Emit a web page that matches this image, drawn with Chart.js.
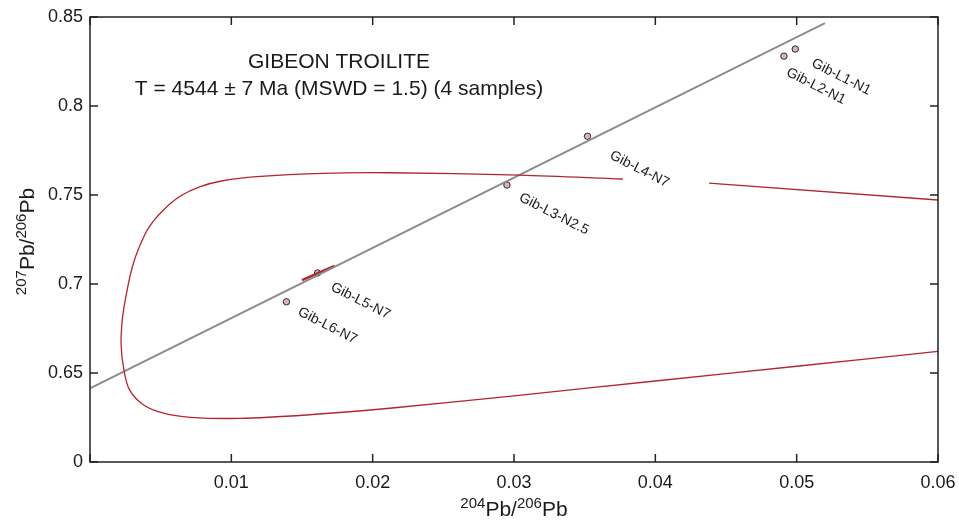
<!DOCTYPE html>
<html>
<head>
<meta charset="utf-8">
<script src="https://cdn.jsdelivr.net/npm/chart.js@4/dist/chart.umd.min.js"></script>
<style>
  html, body { margin: 0; padding: 0; background: #fff; }
  #wrap { width: 959px; height: 520px; }
</style>
</head>
<body>
<div id="wrap"><canvas id="chart" width="959" height="520"></canvas></div>
<script>
// ---- 軸の目盛り ----
const xTicks      = [0, 0.01, 0.02, 0.03, 0.04, 0.05, 0.06];
const xTickLabels = ['', '0.01', '0.02', '0.03', '0.04', '0.05', '0.06'];
const yTicks      = [0.6, 0.65, 0.7, 0.75, 0.8, 0.85];
const yTickLabels = ['0', '0.65', '0.7', '0.75', '0.8', '0.85'];

// ---- 試料（204Pb/206Pb, 207Pb/206Pb） ----
const sampleNames = ['Gib-L1-N1', 'Gib-L2-N1', 'Gib-L4-N7', 'Gib-L3-N2.5', 'Gib-L5-N7', 'Gib-L6-N7'];
const sampleX     = [0.0499, 0.0491, 0.0352, 0.0295, 0.0161, 0.0139];
const sampleY     = [0.8320, 0.8280, 0.7830, 0.7556, 0.7062, 0.6900];

// ---- アイソクロン直線 ----
const isoX = [0, 0.052];
const isoY = [0.6414, 0.8466];

// ---- 誤差包絡線（上側の右端は別区間） ----
const envX = [0.0377, 0.0304, 0.0212, 0.0165, 0.0118, 0.0094, 0.0078, 0.0064, 0.0052, 0.0042,
              0.0035, 0.0030, 0.0026, 0.0023, 0.0022, 0.0024, 0.0028, 0.0038, 0.0052, 0.0071,
              0.0106, 0.0153, 0.0212, 0.0300, 0.0400, 0.0500, 0.0600];
const envY = [0.7590, 0.7612, 0.7625, 0.7622, 0.7603, 0.7580, 0.7547, 0.7494, 0.7416, 0.7322,
              0.7210, 0.7097, 0.6955, 0.6810, 0.6660, 0.6517, 0.6405, 0.6320, 0.6274, 0.6251,
              0.6245, 0.6264, 0.6302, 0.6372, 0.6455, 0.6538, 0.6622];
const envRightX = [0.0438, 0.0600];
const envRightY = [0.7567, 0.7472];

// ---- Gib-L5-N7 の誤差楕円（細長い） ----
const l5ErrX = [0.0150, 0.0173];
const l5ErrY = [0.7022, 0.7101];

// ---- 文字 ----
const titleLines = ['GIBEON TROILITE', 'T = 4544 ± 7 Ma (MSWD = 1.5) (4 samples)'];
const labelOffsets = [[46, 28], [32, 30], [52, 33], [47, 29], [43, 28], [41, 24]];

const FONT = "'Liberation Sans', Arial, sans-serif";
const RED  = '#b3262e';

const toPts = (xs, ys) => xs.map((v, i) => ({ x: v, y: ys[i] }));

// 上付き数字つきの Pb 比を描く
function drawRatio(ctx, parts, cx, cy) {
    let w = 0;
    parts.forEach(p => {
        ctx.font = (p.sup ? '15px ' : '21px ') + FONT;
        p.w = ctx.measureText(p.t).width;
        w += p.w;
    });
    let x = cx - w / 2;
    parts.forEach(p => {
        ctx.font = (p.sup ? '15px ' : '21px ') + FONT;
        ctx.fillText(p.t, x, p.sup ? cy - 8 : cy);
        x += p.w;
    });
}
const ratio = (a, b) => [
    { t: a, sup: true }, { t: 'Pb/' }, { t: b, sup: true }, { t: 'Pb' },
];

const framePlugin = {
    id: 'frame',
    afterDatasetsDraw(chart) {
        const { ctx, chartArea: a, scales: { x, y } } = chart;
        ctx.save();
        // 枠と内向きの目盛り
        ctx.strokeStyle = '#222';
        ctx.lineWidth = 1.5;
        ctx.strokeRect(a.left, a.top, a.right - a.left, a.bottom - a.top);
        ctx.beginPath();
        xTicks.forEach(v => {
            const px = x.getPixelForValue(v);
            ctx.moveTo(px, a.bottom); ctx.lineTo(px, a.bottom - 8);
            ctx.moveTo(px, a.top);    ctx.lineTo(px, a.top + 8);
        });
        yTicks.forEach(v => {
            const py = y.getPixelForValue(v);
            ctx.moveTo(a.left, py);  ctx.lineTo(a.left + 8, py);
            ctx.moveTo(a.right, py); ctx.lineTo(a.right - 8, py);
        });
        ctx.stroke();

        ctx.fillStyle = '#1a1a1a';
        // タイトル
        ctx.textAlign = 'center';
        ctx.textBaseline = 'middle';
        ctx.font = '21px ' + FONT;
        ctx.fillText(titleLines[0], 339, 62);
        ctx.fillText(titleLines[1], 339, 89);

        // 試料ラベル
        ctx.font = '14px ' + FONT;
        sampleNames.forEach((name, i) => {
            const px = x.getPixelForValue(sampleX[i]) + labelOffsets[i][0];
            const py = y.getPixelForValue(sampleY[i]) + labelOffsets[i][1];
            ctx.save();
            ctx.translate(px, py);
            ctx.rotate(27 * Math.PI / 180);
            ctx.fillText(name, 0, 0);
            ctx.restore();
        });

        // 軸タイトル
        ctx.textAlign = 'left';
        ctx.textBaseline = 'alphabetic';
        drawRatio(ctx, ratio('204', '206'), (a.left + a.right) / 2, 516);
        ctx.save();
        ctx.translate(34, (a.top + a.bottom) / 2 + 2);
        ctx.rotate(-Math.PI / 2);
        drawRatio(ctx, ratio('207', '206'), 0, 0);
        ctx.restore();
        ctx.restore();
    },
};

const lineSet = (data, color, width) => ({
    type: 'scatter', data, showLine: true, borderColor: color, borderWidth: width,
    pointRadius: 0, fill: false,
});

new Chart(document.getElementById('chart').getContext('2d'), {
    type: 'scatter',
    data: {
        datasets: [
            { ...lineSet(toPts(envX, envY), RED, 1.3), tension: 0.35 },
            lineSet(toPts(envRightX, envRightY), RED, 1.3),
            lineSet(toPts(isoX, isoY), '#8c8c8c', 2),
            lineSet(toPts(l5ErrX, l5ErrY), RED, 2.5),
            {
                data: toPts(sampleX, sampleY),
                pointRadius: 3.2,
                pointBorderWidth: 1,
                pointBorderColor: '#2a2a2a',
                pointBackgroundColor: 'rgba(170, 60, 90, 0.4)',
            },
        ],
    },
    options: {
        responsive: false,
        animation: false,
        layout: { padding: { top: 17, right: 21, left: 0, bottom: 0 } },
        plugins: { legend: { display: false }, tooltip: { enabled: false } },
        scales: {
            x: {
                type: 'linear', min: 0, max: 0.06,
                afterBuildTicks: s => { s.ticks = xTicks.map(v => ({ value: v })); },
                afterFit: s => { s.height = 58; s.paddingLeft = 0; s.paddingRight = 0; },
                grid: { display: false, drawTicks: false },
                border: { display: false },
                ticks: {
                    padding: 10, color: '#1a1a1a', font: { family: FONT, size: 18 },
                    maxRotation: 0, callback: (v, i) => xTickLabels[i],
                },
            },
            y: {
                type: 'linear', min: 0.6, max: 0.85,
                afterBuildTicks: s => { s.ticks = yTicks.map(v => ({ value: v })); },
                afterFit: s => { s.width = 90; s.paddingTop = 0; s.paddingBottom = 0; },
                grid: { display: false, drawTicks: false },
                border: { display: false },
                ticks: {
                    padding: 7, color: '#1a1a1a', font: { family: FONT, size: 18 },
                    callback: (v, i) => yTickLabels[i],
                },
            },
        },
    },
    plugins: [framePlugin],
});
</script>
</body>
</html>
